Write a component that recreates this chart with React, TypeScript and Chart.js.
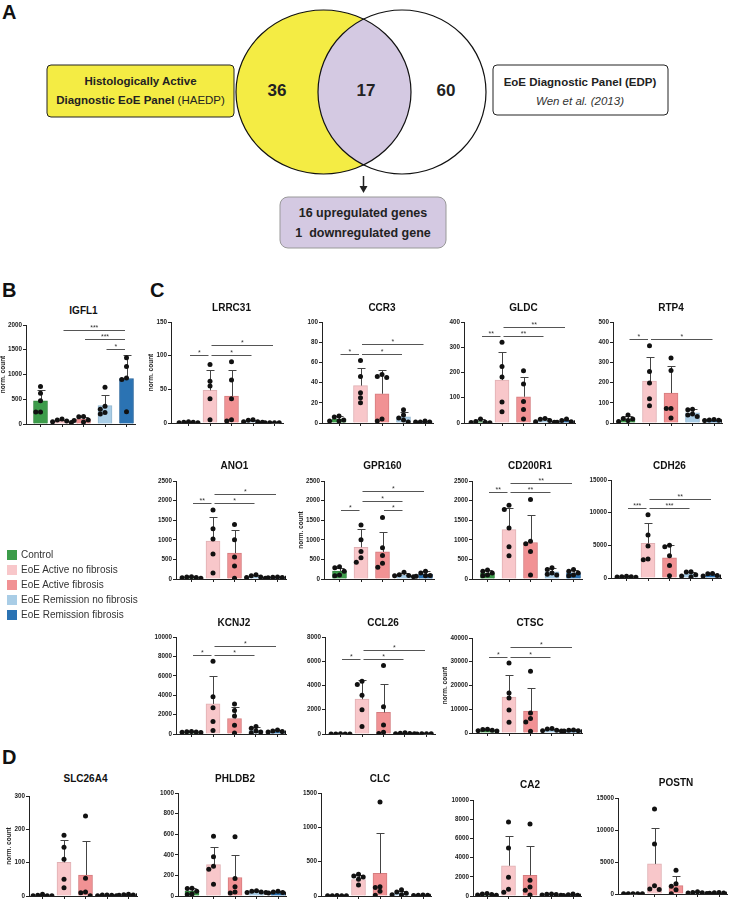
import React, { useEffect, useRef } from 'react';
import { Chart, registerables } from 'chart.js';

Chart.register(...registerables);

const FONT = '"Liberation Sans", Arial, Helvetica, sans-serif';
const AXIS = '#222';

// ---------- groups ----------
const groupNames = [
  'Control',
  'EoE Active no fibrosis',
  'EoE Active fibrosis',
  'EoE Remission no fibrosis',
  'EoE Remission fibrosis',
];
const groupColors = ['#3c9c4a', '#f8c7ca', '#f19294', '#a9cde6', '#2b73b3'];
const groupEdges = ['#33863f', '#e0b0b3', '#d57c7f', '#93b6cf', '#24629b'];

// ---------- Venn (panel A) ----------
const vennCounts = [36, 17, 60];
const vennLeftLabel = ['Histologically Active', 'Diagnostic EoE Panel', '(HAEDP)'];
const vennRightLabel = ['EoE Diagnostic Panel (EDP)', 'Wen et al. (2013)'];
const vennResult = ['16 upregulated genes', '1  downregulated gene'];

// ---------- gene data: ticks, means, SD, points, significance ----------
type Sig = [number, number, number, string];

const igfl1Ticks = [0, 500, 1000, 1500, 2000];
const igfl1Mean = [470, 60, 100, 370, 920];
const igfl1Sd = [220, 30, 40, 220, 470];
const igfl1Points = [[760, 620, 470, 240, 240], [100, 80, 60, 45, 30], [150, 145, 80, 70, 40], [740, 360, 300, 230, 200], [1340, 1160, 930, 900, 250]];
const igfl1Sig: Sig[] = [[1, 4, 1900, '***'], [2, 4, 1710, '***'], [3, 4, 1520, '*']];

const lrrc31Ticks = [0, 50, 100, 150];
const lrrc31Mean = [1, 48.5, 40, 3, 0.5];
const lrrc31Sd = [1, 30, 38, 2, 0.2];
const lrrc31Points = [[2, 1, 1, 0.5, 0.5], [87, 62, 55, 36, 5], [91, 64, 36, 5, 3], [5, 4, 2, 2, 1], [0.5, 0.5, 0.5, 0.5]];
const lrrc31Sig: Sig[] = [[1, 4, 116, '*'], [0, 1, 101, '*'], [1, 3, 101, '*']];

const ccr3Ticks = [0, 20, 40, 60, 80, 100];
const ccr3Mean = [4, 37, 29, 6, 1];
const ccr3Sd = [3, 17, 23, 5, 0.5];
const ccr3Points = [[7, 6, 3, 2, 2], [62, 46, 30, 25, 20], [48, 46, 45, 4, 2], [13, 8, 5, 3, 1], [2, 1, 1, 1]];
const ccr3Sig: Sig[] = [[1, 4, 78, '*'], [0, 1, 68, '*'], [1, 3, 68, '*']];

const gldcTicks = [0, 100, 200, 300, 400];
const gldcMean = [6, 170, 104, 10, 7];
const gldcSd = [8, 110, 77, 10, 6];
const gldcPoints = [[16, 6, 3, 2, 1], [320, 224, 182, 83, 45], [207, 154, 85, 53, 16], [18, 15, 10, 5, 3], [16, 10, 5, 3, 2]];
const gldcSig: Sig[] = [[1, 4, 382, '**'], [0, 1, 345, '**'], [1, 3, 345, '**']];

const rtp4Ticks = [0, 100, 200, 300, 400, 500];
const rtp4Mean = [20, 207, 148, 50, 14];
const rtp4Sd = [13, 118, 134, 20, 3];
const rtp4Points = [[40, 22, 20, 12, 8], [383, 255, 198, 120, 85], [322, 260, 72, 72, 25], [68, 66, 45, 40, 32], [17, 15, 14, 12, 10]];
const rtp4Sig: Sig[] = [[0, 1, 417, '*'], [1, 4, 417, '*']];

const ano1Ticks = [0, 500, 1000, 1500, 2000, 2500];
const ano1Mean = [40, 970, 660, 60, 40];
const ano1Sd = [20, 620, 590, 40, 15];
const ano1Points = [[60, 50, 40, 30, 20], [1760, 1280, 1020, 640, 150], [1390, 1000, 560, 330, 20], [110, 80, 50, 40, 20], [50, 45, 40, 30, 30]];
const ano1Sig: Sig[] = [[1, 4, 2165, '*'], [0, 1, 1930, '**'], [1, 3, 1930, '*']];

const gpr160Ticks = [0, 500, 1000, 1500, 2000, 2500];
const gpr160Mean = [200, 810, 690, 100, 120];
const gpr160Sd = [90, 457, 517, 50, 80];
const gpr160Points = [[310, 290, 200, 100, 80], [1380, 1000, 700, 540, 430], [1570, 800, 600, 400, 300], [170, 110, 90, 80, 60], [200, 150, 90, 80, 70]];
const gpr160Sig: Sig[] = [[1, 4, 2240, '*'], [1, 3, 1990, '*'], [0, 1, 1760, '*'], [2, 3, 1760, '*']];

const cd200r1Ticks = [0, 500, 1000, 1500, 2000, 2500];
const cd200r1Mean = [150, 1260, 930, 180, 160];
const cd200r1Sd = [70, 560, 700, 90, 80];
const cd200r1Points = [[230, 200, 150, 100, 80], [1880, 1770, 1300, 820, 590], [2030, 960, 900, 700, 100], [290, 240, 150, 120, 100], [240, 200, 150, 100, 80]];
const cd200r1Sig: Sig[] = [[1, 4, 2440, '**'], [0, 1, 2210, '**'], [1, 3, 2210, '**']];

const cdh26Ticks = [0, 5000, 10000, 15000];
const cdh26Mean = [200, 5300, 3100, 560, 450];
const cdh26Sd = [60, 3100, 1900, 400, 200];
const cdh26Points = [[250, 200, 200, 150, 100], [9700, 6600, 4900, 2900, 2800], [5000, 4800, 3400, 1900, 350], [950, 900, 500, 300, 150], [700, 650, 400, 300, 200]];
const cdh26Sig: Sig[] = [[1, 4, 12120, '**'], [0, 1, 10700, '***'], [1, 3, 10700, '***']];

const kcnj2Ticks = [0, 2000, 4000, 6000, 8000, 10000];
const kcnj2Mean = [200, 3100, 1600, 350, 250];
const kcnj2Sd = [50, 2850, 1150, 330, 120];
const kcnj2Points = [[250, 220, 200, 180, 150], [7500, 3850, 2700, 1300, 350], [3100, 2420, 1850, 900, 100], [780, 600, 300, 200, 100], [400, 300, 250, 200, 150]];
const kcnj2Sig: Sig[] = [[1, 4, 9090, '*'], [0, 1, 8140, '*'], [1, 3, 8140, '*']];

const ccl26Ticks = [0, 2000, 4000, 6000, 8000];
const ccl26Mean = [10, 2870, 1780, 50, 20];
const ccl26Sd = [5, 1560, 2370, 30, 10];
const ccl26Points = [[15, 10, 10, 5, 5], [4350, 4080, 3200, 2000, 620], [5650, 2250, 750, 150, 50], [100, 60, 50, 30, 20], [30, 20, 20, 10]];
const ccl26Sig: Sig[] = [[1, 4, 6925, '*'], [0, 1, 6170, '*'], [1, 3, 6170, '*']];

const ctscTicks = [0, 10000, 20000, 30000, 40000];
const ctscMean = [1200, 15100, 9200, 1300, 1000];
const ctscSd = [350, 9300, 9800, 450, 250];
const ctscPoints = [[1600, 1500, 1200, 1000, 800], [29500, 16800, 14700, 9700, 4500], [26000, 8400, 6100, 4600, 700], [1900, 1700, 1200, 1000, 800], [1300, 1200, 1000, 800, 700]];
const ctscSig: Sig[] = [[1, 4, 36100, '*'], [0, 1, 32200, '*'], [1, 3, 32200, '*']];

const slc26a4Ticks = [0, 100, 200, 300];
const slc26a4Mean = [2, 101, 63, 2, 3];
const slc26a4Sd = [2, 67, 102, 1, 1.5];
const slc26a4Points = [[5, 2, 1, 1, 1], [182, 146, 110, 50, 25], [240, 53, 12, 10, 1], [3, 3, 2, 1, 1], [5, 4, 3, 2, 2]];
const slc26a4Sig: Sig[] = [];

const phldb2Ticks = [0, 200, 400, 600, 800, 1000];
const phldb2Mean = [45, 305, 180, 40, 35];
const phldb2Sd = [30, 175, 220, 10, 10];
const phldb2Points = [[75, 72, 45, 20, 15], [580, 380, 290, 260, 115], [575, 170, 90, 40, 30], [50, 45, 40, 35, 35], [45, 40, 35, 30, 25]];
const phldb2Sig: Sig[] = [];

const clcTicks = [0, 500, 1000, 1500];
const clcMean = [5, 240, 330, 45, 10];
const clcSd = [3, 60, 582, 25, 3];
const clcPoints = [[8, 5, 5, 3, 3], [315, 290, 275, 245, 160], [1370, 135, 125, 70, 10], [90, 60, 40, 20, 20], [15, 10, 10, 8, 5]];
const clcSig: Sig[] = [];

const ca2Ticks = [0, 2000, 4000, 6000, 8000, 10000];
const ca2Mean = [160, 3150, 2150, 150, 100];
const ca2Sd = [80, 3130, 3090, 60, 60];
const ca2Points = [[250, 200, 150, 100, 80], [7700, 5000, 1950, 700, 400], [7500, 1650, 950, 600, 100], [220, 180, 150, 100, 80], [200, 130, 80, 60, 50]];
const ca2Sig: Sig[] = [];

const postnTicks = [0, 5000, 10000, 15000];
const postnMean = [30, 4700, 1300, 200, 150];
const postnSd = [10, 5600, 1450, 100, 70];
const postnPoints = [[40, 30, 30, 20, 20], [13300, 7800, 1300, 800, 700], [3700, 1600, 1200, 650, 50], [350, 250, 200, 150, 80], [230, 200, 150, 100, 80]];
const postnSig: Sig[] = [];

interface GeneData {
  name: string;
  ticks: number[];
  mean: number[];
  sd: number[];
  points: number[][];
  sig: Sig[];
}

const GENES: GeneData[] = [
  { name: 'IGFL1', ticks: igfl1Ticks, mean: igfl1Mean, sd: igfl1Sd, points: igfl1Points, sig: igfl1Sig },
  { name: 'LRRC31', ticks: lrrc31Ticks, mean: lrrc31Mean, sd: lrrc31Sd, points: lrrc31Points, sig: lrrc31Sig },
  { name: 'CCR3', ticks: ccr3Ticks, mean: ccr3Mean, sd: ccr3Sd, points: ccr3Points, sig: ccr3Sig },
  { name: 'GLDC', ticks: gldcTicks, mean: gldcMean, sd: gldcSd, points: gldcPoints, sig: gldcSig },
  { name: 'RTP4', ticks: rtp4Ticks, mean: rtp4Mean, sd: rtp4Sd, points: rtp4Points, sig: rtp4Sig },
  { name: 'ANO1', ticks: ano1Ticks, mean: ano1Mean, sd: ano1Sd, points: ano1Points, sig: ano1Sig },
  { name: 'GPR160', ticks: gpr160Ticks, mean: gpr160Mean, sd: gpr160Sd, points: gpr160Points, sig: gpr160Sig },
  { name: 'CD200R1', ticks: cd200r1Ticks, mean: cd200r1Mean, sd: cd200r1Sd, points: cd200r1Points, sig: cd200r1Sig },
  { name: 'CDH26', ticks: cdh26Ticks, mean: cdh26Mean, sd: cdh26Sd, points: cdh26Points, sig: cdh26Sig },
  { name: 'KCNJ2', ticks: kcnj2Ticks, mean: kcnj2Mean, sd: kcnj2Sd, points: kcnj2Points, sig: kcnj2Sig },
  { name: 'CCL26', ticks: ccl26Ticks, mean: ccl26Mean, sd: ccl26Sd, points: ccl26Points, sig: ccl26Sig },
  { name: 'CTSC', ticks: ctscTicks, mean: ctscMean, sd: ctscSd, points: ctscPoints, sig: ctscSig },
  { name: 'SLC26A4', ticks: slc26a4Ticks, mean: slc26a4Mean, sd: slc26a4Sd, points: slc26a4Points, sig: slc26a4Sig },
  { name: 'PHLDB2', ticks: phldb2Ticks, mean: phldb2Mean, sd: phldb2Sd, points: phldb2Points, sig: phldb2Sig },
  { name: 'CLC', ticks: clcTicks, mean: clcMean, sd: clcSd, points: clcPoints, sig: clcSig },
  { name: 'CA2', ticks: ca2Ticks, mean: ca2Mean, sd: ca2Sd, points: ca2Points, sig: ca2Sig },
  { name: 'POSTN', ticks: postnTicks, mean: postnMean, sd: postnSd, points: postnPoints, sig: postnSig },
];

// ---------- layout (pixel positions of each small chart) ----------
interface Pos { ax: number; bx: number; top: number; bottom: number; titleY: number; yTitle?: boolean }
const LAYOUT: Record<string, Pos> = {
  IGFL1: { ax: 26, bx: 40.5, top: 325, bottom: 424, titleY: 311, yTitle: true },
  LRRC31: { ax: 171, bx: 188.5, top: 322, bottom: 423, titleY: 308, yTitle: true },
  CCR3: { ax: 322, bx: 339, top: 322, bottom: 423, titleY: 308 },
  GLDC: { ax: 464, bx: 480.5, top: 322, bottom: 423, titleY: 308 },
  RTP4: { ax: 613, bx: 628, top: 322, bottom: 423, titleY: 308 },
  ANO1: { ax: 176, bx: 191.5, top: 481, bottom: 579, titleY: 466 },
  GPR160: { ax: 324, bx: 339.5, top: 481, bottom: 579, titleY: 466, yTitle: true },
  CD200R1: { ax: 471.5, bx: 487, top: 481, bottom: 579, titleY: 466 },
  CDH26: { ax: 611, bx: 626.5, top: 480, bottom: 578, titleY: 466 },
  KCNJ2: { ax: 175.5, bx: 191, top: 637, bottom: 734, titleY: 623 },
  CCL26: { ax: 324.5, bx: 340, top: 637, bottom: 734, titleY: 623 },
  CTSC: { ax: 471.5, bx: 487, top: 638, bottom: 733, titleY: 623, yTitle: true },
  SLC26A4: { ax: 29, bx: 42.5, top: 796, bottom: 896, titleY: 779, yTitle: true },
  PHLDB2: { ax: 178, bx: 192, top: 793, bottom: 896, titleY: 779 },
  CLC: { ax: 321, bx: 337, top: 793, bottom: 896, titleY: 779 },
  CA2: { ax: 473, bx: 487, top: 800, bottom: 896, titleY: 785 },
  POSTN: { ax: 618, bx: 633, top: 798, bottom: 894, titleY: 783 },
};

const SPACING = 21.5;
const DOT_R = 2.5;
const Y_SCALE_W = 40;
const PAD_TOP = 8;
const X_SCALE_H = 6;

function swarm(points: number[][], pxPerUnit: number) {
  const out: { x: number; y: number }[] = [];
  const step = 4.7;
  points.forEach((grp, gi) => {
    const placed: { x: number; y: number }[] = [];
    const sorted = [...grp].sort((a, b) => b - a);
    sorted.forEach((v) => {
      const yp = v * pxPerUnit;
      for (const k of [0, -1, 1, -2, 2, -3, 3]) {
        const xp = k * step;
        if (placed.every((p) => (p.x - xp) ** 2 + (p.y - yp) ** 2 >= step * step * 0.9)) {
          placed.push({ x: xp, y: yp });
          out.push({ x: gi + xp / SPACING, y: v });
          break;
        }
      }
    });
  });
  return out;
}

function GeneChart({ gene }: { gene: GeneData }) {
  const ref = useRef<HTMLCanvasElement>(null);
  const L = LAYOUT[gene.name];
  const left = Math.round(L.ax) - Y_SCALE_W;
  const top = Math.round(L.top) - PAD_TOP;
  const plotH = Math.round(L.bottom) - Math.round(L.top);
  const axisLen = Math.round(L.bx - L.ax + 4 * SPACING + 8);
  const width = Y_SCALE_W + axisLen + 4;
  const height = PAD_TOP + plotH + X_SCALE_H + 2;
  const titleX = L.bx + 2 * SPACING;

  useEffect(() => {
    const yMax = gene.ticks[gene.ticks.length - 1];
    const xMin = -(L.bx - L.ax) / SPACING;
    const xMax = xMin + axisLen / SPACING;
    const dots = swarm(gene.points, plotH / yMax);

    const errorBars = {
      id: 'errorBars',
      afterDatasetDraw(chart: any, args: any) {
        if (args.index !== 0) return;
        const { ctx } = chart;
        const xs = chart.scales.x;
        const ys = chart.scales.y;
        ctx.save();
        ctx.strokeStyle = '#444';
        ctx.lineWidth = 1;
        gene.mean.forEach((m, i) => {
          const px = Math.round(xs.getPixelForValue(i)) + 0.5;
          const y0 = ys.getPixelForValue(m);
          const y1 = Math.round(ys.getPixelForValue(m + gene.sd[i])) + 0.5;
          ctx.beginPath();
          ctx.moveTo(px, y0);
          ctx.lineTo(px, y1);
          ctx.moveTo(px - 4, y1);
          ctx.lineTo(px + 4, y1);
          ctx.stroke();
        });
        ctx.restore();
      },
    };

    const brackets = {
      id: 'brackets',
      afterDatasetsDraw(chart: any) {
        const { ctx } = chart;
        const xs = chart.scales.x;
        const ys = chart.scales.y;
        ctx.save();
        ctx.strokeStyle = '#555';
        ctx.fillStyle = '#333';
        ctx.lineWidth = 1;
        ctx.font = `7px ${FONT}`;
        ctx.textAlign = 'center';
        ctx.textBaseline = 'bottom';
        gene.sig.forEach(([a, b, v, label]) => {
          const x1 = xs.getPixelForValue(a) + 1.5;
          const x2 = xs.getPixelForValue(b) - 1.5;
          const py = Math.round(ys.getPixelForValue(v)) + 0.5;
          ctx.beginPath();
          ctx.moveTo(x1, py);
          ctx.lineTo(x2, py);
          ctx.stroke();
          ctx.fillText(label, (x1 + x2) / 2, py + 1);
        });
        ctx.restore();
      },
    };

    const yTitle = {
      id: 'yTitle',
      afterDraw(chart: any) {
        if (!L.yTitle) return;
        const { ctx, chartArea } = chart;
        ctx.save();
        ctx.font = `bold 6.3px ${FONT}`;
        const maxW = Math.max(...gene.ticks.map((t) => ctx.measureText(String(t)).width));
        const cx = chartArea.left - 4 - maxW - 5;
        const cy = (chartArea.top + chartArea.bottom) / 2;
        ctx.translate(cx, cy);
        ctx.rotate(-Math.PI / 2);
        ctx.textAlign = 'center';
        ctx.textBaseline = 'middle';
        ctx.fillStyle = '#222';
        ctx.font = `bold 6.5px ${FONT}`;
        ctx.fillText('norm. count', 0, 0);
        ctx.restore();
      },
    };

    const chart = new Chart(ref.current as HTMLCanvasElement, {
      type: 'bar',
      data: {
        datasets: [
          {
            type: 'bar',
            data: gene.mean.map((m, i) => ({ x: i, y: m })) as any,
            backgroundColor: groupColors,
            borderColor: groupEdges,
            borderWidth: 1,
            barThickness: 14,
            order: 2,
          } as any,
          {
            type: 'scatter',
            data: dots as any,
            pointRadius: DOT_R,
            pointBackgroundColor: '#111',
            pointBorderWidth: 0,
            order: 1,
          } as any,
        ],
      },
      options: {
        animation: false,
        responsive: false,
        events: [],
        layout: { padding: { top: PAD_TOP, right: 4, bottom: 2, left: 0 } },
        plugins: { legend: { display: false }, tooltip: { enabled: false }, title: { display: false } },
        scales: {
          x: {
            type: 'linear',
            min: xMin,
            max: xMax,
            offset: false,
            afterBuildTicks: (s: any) => {
              s.ticks = [0, 1, 2, 3, 4].map((v) => ({ value: v }));
            },
            afterFit: (s: any) => {
              s.height = X_SCALE_H;
            },
            grid: { drawOnChartArea: false, drawTicks: true, tickLength: 3, color: AXIS, offset: false },
            border: { color: AXIS, width: 1 },
            ticks: { display: false },
          },
          y: {
            type: 'linear',
            min: 0,
            max: yMax,
            afterBuildTicks: (s: any) => {
              s.ticks = gene.ticks.map((v) => ({ value: v }));
            },
            afterFit: (s: any) => {
              s.width = Y_SCALE_W;
            },
            grid: { drawOnChartArea: false, drawTicks: true, tickLength: 3, color: AXIS },
            border: { color: AXIS, width: 1 },
            ticks: {
              font: { size: 6.3, weight: 'bold', family: FONT },
              color: '#222',
              padding: 1,
              callback: (v: any) => String(v),
            },
          },
        },
      } as any,
      plugins: [errorBars, brackets, yTitle],
    });
    return () => chart.destroy();
  }, []);

  return (
    <>
      <canvas
        ref={ref}
        width={width}
        height={height}
        style={{ position: 'absolute', left, top, width, height }}
      />
      <div
        style={{
          position: 'absolute',
          left: titleX - 60,
          width: 120,
          top: L.titleY - 5,
          fontSize: 10,
          lineHeight: '10px',
          fontWeight: 'bold',
          textAlign: 'center',
          color: '#111',
          fontFamily: FONT,
        }}
      >
        {gene.name}
      </div>
    </>
  );
}

function Venn() {
  const yellow = '#f4ec44';
  const lav = '#d4c9e2';
  const L = { cx: 323.5, cy: 92, rx: 87.5, ry: 82 };
  const R = { cx: 402, cy: 92, rx: 84, ry: 82 };
  return (
    <svg width={732} height={260} style={{ position: 'absolute', left: 0, top: 0 }} fontFamily={FONT}>
      <defs>
        <clipPath id="leftEllipse">
          <ellipse cx={L.cx} cy={L.cy} rx={L.rx} ry={L.ry} />
        </clipPath>
      </defs>
      <rect x={47} y={65} width={187} height={52} rx={4} fill={yellow} stroke="#222" strokeWidth={1} />
      <rect x={493} y={65} width={175} height={50} rx={4} fill="#fff" stroke="#222" strokeWidth={1} />
      <ellipse cx={L.cx} cy={L.cy} rx={L.rx} ry={L.ry} fill={yellow} />
      <ellipse cx={R.cx} cy={R.cy} rx={R.rx} ry={R.ry} fill="#fff" />
      <ellipse cx={R.cx} cy={R.cy} rx={R.rx} ry={R.ry} fill={lav} clipPath="url(#leftEllipse)" />
      <ellipse cx={L.cx} cy={L.cy} rx={L.rx} ry={L.ry} fill="none" stroke="#111" strokeWidth={1.2} />
      <ellipse cx={R.cx} cy={R.cy} rx={R.rx} ry={R.ry} fill="none" stroke="#111" strokeWidth={1.2} />
      <text x={277} y={96} fontSize={17} fontWeight="bold" textAnchor="middle" fill="#222">{vennCounts[0]}</text>
      <text x={366} y={96} fontSize={17} fontWeight="bold" textAnchor="middle" fill="#222">{vennCounts[1]}</text>
      <text x={446} y={96} fontSize={17} fontWeight="bold" textAnchor="middle" fill="#222">{vennCounts[2]}</text>
      <text x={140.5} y={85} fontSize={11.5} fontWeight="bold" textAnchor="middle" fill="#222">{vennLeftLabel[0]}</text>
      <text x={140.5} y={104} fontSize={11.5} textAnchor="middle" fill="#222">
        <tspan fontWeight="bold">{vennLeftLabel[1]}</tspan>
        <tspan> {vennLeftLabel[2]}</tspan>
      </text>
      <text x={580} y={86} fontSize={11.5} fontWeight="bold" textAnchor="middle" fill="#222">{vennRightLabel[0]}</text>
      <text x={580} y={105} fontSize={11.5} fontStyle="italic" textAnchor="middle" fill="#333">{vennRightLabel[1]}</text>
      <line x1={363.5} y1={176} x2={363.5} y2={187} stroke="#222" strokeWidth={1.5} />
      <polygon points="359.5,186 367.5,186 363.5,193" fill="#222" />
      <rect x={280} y={197} width={166} height={51} rx={8} fill={lav} stroke="#999" strokeWidth={1} />
      <text x={363} y={217} fontSize={12.5} fontWeight="bold" textAnchor="middle" fill="#222">{vennResult[0]}</text>
      <text x={363} y={237} fontSize={12.5} fontWeight="bold" textAnchor="middle" fill="#222" xmlSpace="preserve">{vennResult[1]}</text>
    </svg>
  );
}

function Legend() {
  return (
    <div style={{ position: 'absolute', left: 7, top: 550, fontFamily: FONT }}>
      {groupNames.map((g, i) => (
        <div key={g} style={{ position: 'absolute', left: 0, top: i * 15, height: 10, whiteSpace: 'nowrap' }}>
          <div style={{ position: 'absolute', left: 0, top: 0, width: 10, height: 10, background: groupColors[i] }} />
          <div style={{ position: 'absolute', left: 14, top: 0, fontSize: 10, lineHeight: '10px', color: '#333' }}>{g}</div>
        </div>
      ))}
    </div>
  );
}

function PanelLetter({ ch, x, y }: { ch: string; x: number; y: number }) {
  return (
    <div
      style={{
        position: 'absolute',
        left: x,
        top: y - 2.6,
        fontSize: 20,
        lineHeight: '20px',
        fontWeight: 'bold',
        fontFamily: FONT,
        color: '#111',
      }}
    >
      {ch}
    </div>
  );
}

export default function App() {
  return (
    <div
      style={{
        position: 'absolute',
        left: 0,
        top: 0,
        width: 732,
        height: 900,
        background: '#fff',
        overflow: 'hidden',
        fontFamily: FONT,
      }}
    >
      <Venn />
      <PanelLetter ch="A" x={2} y={5} />
      <PanelLetter ch="B" x={2} y={283} />
      <PanelLetter ch="C" x={150} y={283} />
      <PanelLetter ch="D" x={2} y={750} />
      {GENES.map((g) => (
        <GeneChart key={g.name} gene={g} />
      ))}
      <Legend />
    </div>
  );
}
